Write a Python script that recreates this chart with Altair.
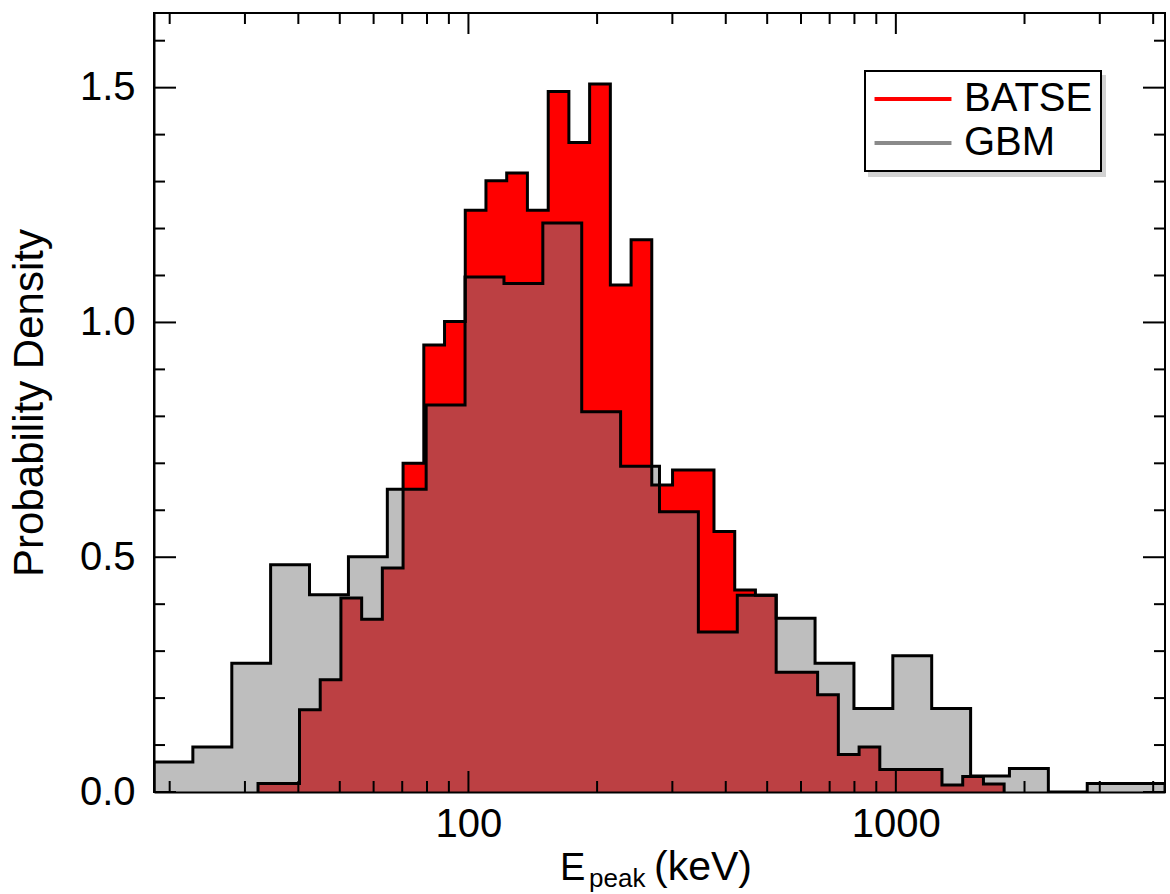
import altair as alt
import pandas as pd

# ---------------- data ----------------
# GBM histogram: bin edges (keV) and probability density per bin
gbm_edges = [18.38, 22.66, 27.95, 34.45, 42.48, 52.39, 64.60, 79.63, 98.19,
             121.1, 149.3, 184.1, 227.0, 279.9, 345.1, 425.6, 524.8, 647.1,
             797.9, 983.8, 1213, 1496, 1844, 2274, 2804, 3457, 4263]
gbm_density = [0.064, 0.096, 0.274, 0.484, 0.420, 0.501, 0.645, 0.824, 1.097,
               1.083, 1.212, 0.810, 0.694, 0.597, 0.341, 0.419, 0.370, 0.274,
               0.178, 0.290, 0.178, 0.034, 0.050, 0.0, 0.018, 0.018]

# BATSE histogram: bin edges (keV) and probability density per bin
batse_edges = [32.19, 35.99, 40.25, 45.00, 50.31, 56.26, 62.89, 70.32, 78.63,
               87.92, 98.31, 109.9, 122.9, 137.4, 153.7, 171.8, 192.1, 214.8,
               240.2, 268.5, 300.3, 335.7, 375.4, 419.8, 469.3, 524.8, 586.8,
               656.1, 733.6, 820.4, 917.2, 1025.4, 1146.6, 1282.1, 1433.6,
               1603, 1792]
batse_density = [0.018, 0.018, 0.175, 0.239, 0.413, 0.368, 0.477, 0.700, 0.952,
                 1.002, 1.239, 1.302, 1.318, 1.239, 1.492, 1.383, 1.508, 1.080,
                 1.176, 0.654, 0.686, 0.686, 0.555, 0.430, 0.419, 0.255, 0.255,
                 0.207, 0.080, 0.096, 0.048, 0.048, 0.048, 0.015, 0.033, 0.017]

series_names = ["BATSE", "GBM"]
series_colors = ["#ff0000", "#8a8a8a"]

x_major = [100, 1000]
x_minor = [20, 30, 40, 50, 60, 70, 80, 90, 200, 300, 400, 500, 600, 700,
           800, 900, 2000, 3000, 4000]
y_major = [0.0, 0.5, 1.0, 1.5]
y_minor = [0.1, 0.2, 0.3, 0.4, 0.6, 0.7, 0.8, 0.9, 1.1, 1.2, 1.3, 1.4, 1.6]
x_title_parts = ["E", "peak", "(keV)"]
y_title = "Probability Density"

# ---------------- styling ----------------
FILL_BATSE = "#ff0000"
FILL_GBM = "#bebebe"
FILL_BOTH = "#bc4043"
SHADOW = "#d2d2d2"
FONT = "Liberation Sans, Arial, Helvetica, sans-serif"
W, H = 1011, 779
X_DOMAIN = [gbm_edges[0], gbm_edges[-1]]
Y_DOMAIN = [0, 1.659]
MAJOR_LEN, MINOR_LEN = 21, 11
TICK_W = 2


def step_points(edges, vals):
    rows = [{"E": e, "v": v} for e, v in zip(edges[:-1], vals)]
    rows.append({"E": edges[-1], "v": vals[-1]})
    return pd.DataFrame(rows)


def outline_points(edges, vals):
    pts = [(edges[0], 0.0)]
    for i, v in enumerate(vals):
        pts.append((edges[i], v))
        pts.append((edges[i + 1], v))
    pts.append((edges[-1], 0.0))
    return pd.DataFrame({"E": [p[0] for p in pts], "v": [p[1] for p in pts],
                         "idx": list(range(len(pts)))})


def value_at(edges, vals, x):
    for i in range(len(vals)):
        if edges[i] <= x < edges[i + 1]:
            return vals[i]
    return 0.0


all_edges = sorted(set(gbm_edges) | set(batse_edges))
overlap_vals = []
for a, b in zip(all_edges[:-1], all_edges[1:]):
    m = (a * b) ** 0.5
    overlap_vals.append(min(value_at(gbm_edges, gbm_density, m),
                            value_at(batse_edges, batse_density, m)))

xscale = alt.Scale(type="log", domain=X_DOMAIN, nice=False)
yscale = alt.Scale(domain=Y_DOMAIN, nice=False, zero=False)

# labelled axes (bottom / left); the inward ticks are drawn separately
x_axis_labels = alt.Axis(orient="bottom", values=x_major, format="d",
                         labelFontSize=40, labelFont=FONT, labelColor="black",
                         labelPadding=12, ticks=False, domain=True,
                         domainColor="black", domainWidth=2, grid=False,
                         title=None, zindex=1)
y_axis_labels = alt.Axis(orient="left", values=y_major, format=".1f",
                         labelFontSize=40, labelFont=FONT, labelColor="black",
                         labelPadding=19, ticks=False, domain=True,
                         domainColor="black", domainWidth=2, grid=False,
                         title=y_title, titleFont=FONT, titleFontSize=42,
                         titleFontWeight="normal", titleColor="black",
                         titleX=-112, titleY=H / 2, titleAngle=270,
                         titleAlign="center", titleBaseline="alphabetic",
                         zindex=1)


def enc(axis_x=None, axis_y=None):
    return dict(
        x=alt.X("E:Q", scale=xscale, axis=axis_x),
        y=alt.Y("v:Q", scale=yscale, axis=axis_y),
    )


batse_fill = alt.Chart(step_points(batse_edges, batse_density)).mark_area(
    interpolate="step-after", color=FILL_BATSE, clip=True
).encode(**enc(x_axis_labels, y_axis_labels))
gbm_fill = alt.Chart(step_points(gbm_edges, gbm_density)).mark_area(
    interpolate="step-after", color=FILL_GBM, clip=True
).encode(**enc())
both_fill = alt.Chart(step_points(all_edges, overlap_vals)).mark_area(
    interpolate="step-after", color=FILL_BOTH, clip=True
).encode(**enc())

line_style = dict(color="black", strokeWidth=3, strokeJoin="miter",
                  strokeCap="square", clip=True)
gbm_line = alt.Chart(outline_points(gbm_edges, gbm_density)).mark_line(
    **line_style).encode(order=alt.Order("idx:Q"), **enc())
batse_line = alt.Chart(outline_points(batse_edges, batse_density)).mark_line(
    **line_style).encode(order=alt.Order("idx:Q"), **enc())


# inward x ticks: short vertical segments at the tick values, on bottom and top
def x_tick_segments(vals, length, bottom):
    dv = length / H * Y_DOMAIN[1]
    v0, v1 = (0.0, dv) if bottom else (Y_DOMAIN[1], Y_DOMAIN[1] - dv)
    df = pd.DataFrame({"E": vals, "v": [v0] * len(vals), "v2": [v1] * len(vals)})
    return alt.Chart(df).mark_rule(color="black", strokeWidth=TICK_W).encode(
        x=alt.X("E:Q", scale=xscale, axis=None),
        y=alt.Y("v:Q", scale=yscale, axis=None), y2="v2:Q")


# inward y ticks on left and right edges
def y_tick_marks(vals, length, left):
    centre = length / 2 if left else W - length / 2
    return alt.Chart(pd.DataFrame({"v": vals})).mark_tick(
        color="black", thickness=TICK_W, size=length, opacity=1,
        orient="horizontal"
    ).encode(y=alt.Y("v:Q", scale=yscale, axis=None), x=alt.value(centre))


tick_layers = [
    x_tick_segments(x_minor, MINOR_LEN, True),
    x_tick_segments(x_minor, MINOR_LEN, False),
    x_tick_segments(x_major, MAJOR_LEN, True),
    x_tick_segments(x_major, MAJOR_LEN, False),
    y_tick_marks(y_minor, MINOR_LEN, True),
    y_tick_marks(y_minor, MINOR_LEN, False),
    y_tick_marks(y_major, MAJOR_LEN + 1, True),
    y_tick_marks(y_major, MAJOR_LEN + 1, False),
]

legend_common = dict(
    title=None, orient="none", direction="vertical", symbolType="M-4,0H4",
    symbolSize=370, symbolStrokeWidth=4, symbolOffset=20, labelFont=FONT,
    labelFontSize=40, labelOffset=31, labelLimit=0, padding=8, rowPadding=4,
    cornerRadius=0,
)

# blank legend of the same size, drawn first, as a soft drop shadow
# (zero-width space keeps its scale domain distinct so it is not merged)
shadow_names = [s + "\u200b" for s in series_names]
shadow_df = pd.DataFrame({"shadow": shadow_names, "E": [100, 100], "v": [0.0, 0.0]})
shadow_layer = alt.Chart(shadow_df).mark_line().encode(
    color=alt.Color(
        "shadow:N",
        scale=alt.Scale(domain=shadow_names, range=[SHADOW, SHADOW]),
        legend=alt.Legend(legendX=715, legendY=63, symbolOpacity=0,
                          labelOpacity=0, strokeColor=SHADOW,
                          fillColor=SHADOW, **legend_common),
    ),
    **enc(),
)

legend_df = pd.DataFrame({"series": series_names, "E": [100, 100], "v": [0.0, 0.0]})
legend_layer = alt.Chart(legend_df).mark_line().encode(
    stroke=alt.Stroke(
        "series:N",
        scale=alt.Scale(domain=series_names, range=series_colors),
        legend=alt.Legend(legendX=711, legendY=58, symbolOpacity=1,
                          labelColor="black", strokeColor="black",
                          fillColor="white", **legend_common),
    ),
    **enc(),
)

t_df = pd.DataFrame({"t": x_title_parts})
title_E = alt.Chart(t_df[t_df.t == x_title_parts[0]]).mark_text(
    align="left", baseline="alphabetic", font=FONT, fontSize=38, color="black"
).encode(text="t:N", x=alt.value(406), y=alt.value(867))
title_sub = alt.Chart(t_df[t_df.t == x_title_parts[1]]).mark_text(
    align="left", baseline="alphabetic", font=FONT, fontSize=26, color="black"
).encode(text="t:N", x=alt.value(435), y=alt.value(874))
title_unit = alt.Chart(t_df[t_df.t == x_title_parts[2]]).mark_text(
    align="left", baseline="alphabetic", font=FONT, fontSize=41, color="black"
).encode(text="t:N", x=alt.value(500), y=alt.value(867))

chart = alt.layer(
    batse_fill, gbm_fill, both_fill, gbm_line, batse_line, *tick_layers,
    shadow_layer, legend_layer, title_E, title_sub, title_unit,
).resolve_axis(
    x="independent", y="independent"
).properties(
    width=W, height=H,
    padding={"left": 154, "top": 13, "right": 5, "bottom": 102},
    autosize=alt.AutoSizeParams(type="none"),
    background="white",
).configure_view(stroke="black", strokeWidth=2)

try:
    c2 = chart.configure_legend(strokeWidth=2)
    c2.to_dict()
    chart = c2
except Exception:
    pass

chart.save("out.html", embed_options={"renderer": "svg", "actions": False})
